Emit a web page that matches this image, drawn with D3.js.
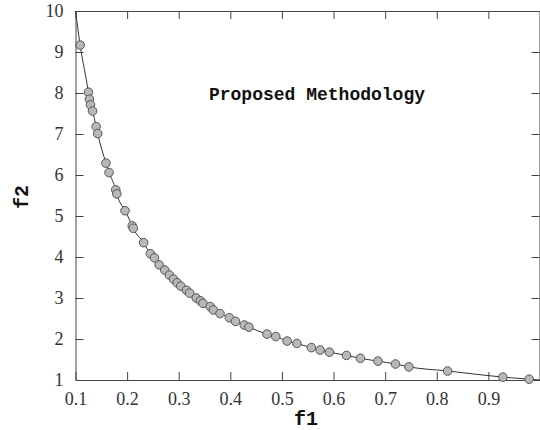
<!DOCTYPE html>
<html>
<head>
<meta charset="utf-8">
<script src="https://cdn.jsdelivr.net/npm/d3@7"></script>
<style>
  html, body { margin: 0; padding: 0; background: #fff; }
  svg { display: block; }
</style>
</head>
<body>
<svg id="chart" width="540" height="430"></svg>
<script>
// pareto front points
const f1 = [0.109, 0.125, 0.127, 0.129, 0.133, 0.140, 0.143, 0.159, 0.165, 0.178, 0.180,
  0.196, 0.210, 0.212, 0.232, 0.245, 0.253, 0.262, 0.273, 0.282, 0.290, 0.297, 0.304,
  0.315, 0.321, 0.334, 0.342, 0.347, 0.361, 0.367, 0.380, 0.398, 0.410, 0.427, 0.436,
  0.471, 0.488, 0.510, 0.529, 0.557, 0.574, 0.592, 0.625, 0.652, 0.686, 0.720, 0.746,
  0.821, 0.928, 0.979];
const f2 = [9.17, 8.02, 7.85, 7.71, 7.56, 7.18, 7.01, 6.29, 6.06, 5.64, 5.54,
  5.13, 4.76, 4.70, 4.35, 4.08, 3.98, 3.81, 3.68, 3.56, 3.46, 3.37, 3.29,
  3.19, 3.12, 3.00, 2.93, 2.87, 2.79, 2.71, 2.62, 2.52, 2.43, 2.34, 2.29,
  2.12, 2.06, 1.95, 1.89, 1.79, 1.73, 1.68, 1.60, 1.53, 1.46, 1.39, 1.32,
  1.22, 1.07, 1.02];
// the line also runs from the top-left corner to the bottom-right corner
const lineStart = [0.1, 10];
const lineEnd = [1.0, 1.0];

const xTicks = [0.1, 0.2, 0.3, 0.4, 0.5, 0.6, 0.7, 0.8, 0.9];
const yTicks = [1, 2, 3, 4, 5, 6, 7, 8, 9, 10];
const titleText = "Proposed Methodology";

const svg = d3.select("#chart");

const x = d3.scaleLinear().domain([0.1, 1.0]).range([75.5, 540]);
const y = d3.scaleLinear().domain([1, 10]).range([380, 11]);

const axisColor = "#444";

function styleAxis(g) {
  g.select(".domain").attr("stroke", axisColor).attr("stroke-width", 1);
  g.selectAll(".tick line").attr("stroke", axisColor).attr("stroke-width", 1);
  g.selectAll(".tick text")
    .attr("fill", "#333")
    .style("font-family", "Liberation Serif")
    .style("font-size", "18px");
}

// bottom
svg.append("g")
  .attr("transform", `translate(0,${y(1)})`)
  .call(d3.axisBottom(x).tickValues(xTicks).tickFormat(d3.format(".1f"))
    .tickSize(-8).tickPadding(12).tickSizeOuter(0))
  .call(styleAxis);

// left
svg.append("g")
  .attr("transform", `translate(${x(0.1)},0)`)
  .call(d3.axisLeft(y).tickValues(yTicks).tickFormat(d3.format("d"))
    .tickSize(-8).tickPadding(12).tickSizeOuter(0))
  .call(styleAxis);

// top, no labels
svg.append("g")
  .attr("transform", `translate(0,${y(10)})`)
  .call(d3.axisTop(x).tickValues(xTicks).tickFormat("").tickSize(-8).tickSizeOuter(0))
  .call(styleAxis);

// right, no labels
svg.append("g")
  .attr("transform", `translate(${x(1.0) - 0.5},0)`)
  .call(d3.axisRight(y).tickValues(yTicks).tickFormat("").tickSize(-8).tickSizeOuter(0))
  .call(styleAxis);

const pts = f1.map((d, i) => ({ f1: d, f2: f2[i] }));
const linePts = [{ f1: lineStart[0], f2: lineStart[1] }, ...pts, { f1: lineEnd[0], f2: lineEnd[1] }];

const line = d3.line()
  .x(d => x(d.f1))
  .y(d => y(d.f2))
  .curve(d3.curveMonotoneX);

svg.append("path")
  .datum(linePts)
  .attr("d", line)
  .attr("fill", "none")
  .attr("stroke", "#333")
  .attr("stroke-width", 1);

svg.append("g")
  .selectAll("circle")
  .data(pts)
  .join("circle")
  .attr("cx", d => x(d.f1))
  .attr("cy", d => y(d.f2))
  .attr("r", 4.3)
  .attr("fill", "#b8b8b8")
  .attr("stroke", "#555")
  .attr("stroke-width", 1);

// title inside plot
svg.append("text")
  .attr("x", 317)
  .attr("y", 100)
  .attr("text-anchor", "middle")
  .style("font-family", "Liberation Mono")
  .style("font-weight", "bold")
  .style("font-size", "18px")
  .attr("fill", "#111")
  .text(titleText);

// axis titles
svg.append("text")
  .attr("x", 306)
  .attr("y", 425)
  .attr("text-anchor", "middle")
  .style("font-family", "Liberation Mono")
  .style("font-weight", "bold")
  .style("font-size", "20px")
  .attr("fill", "#111")
  .text("f1");

svg.append("text")
  .attr("transform", "translate(28,197) rotate(-90)")
  .attr("text-anchor", "middle")
  .style("font-family", "Liberation Mono")
  .style("font-weight", "bold")
  .style("font-size", "20px")
  .attr("fill", "#111")
  .text("f2");
</script>
</body>
</html>
